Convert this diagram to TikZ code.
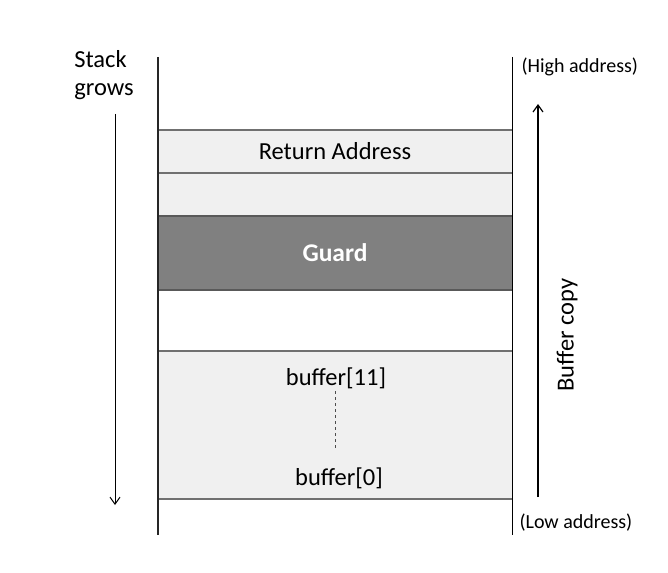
\documentclass[tikz,border=0pt]{standalone}
\usepackage{fontspec}
\setmainfont{Carlito}
\usepackage{xcolor}
\usetikzlibrary{arrows.meta}
\definecolor{slotgray}{HTML}{F0F0F0}
\definecolor{guardgray}{HTML}{808080}
\definecolor{edgegray}{HTML}{707070}

\begin{document}
\begin{tikzpicture}[x=1pt,y=-1pt,
  >={Straight Barb[length=7pt,width=10pt]},
  big/.style={font=\fontsize{24.5}{28}\selectfont},
  slot/.style={fill=slotgray, minimum width=354pt, inner sep=0pt, big},
  edge/.style={edgegray, line width=1.6pt},
  side/.style={black!85, line width=1.4pt},
  note/.style={font=\fontsize{20}{22}\selectfont, anchor=west}]
\useasboundingbox (0,0) rectangle (668,572);

% Stack frame slots
\node[slot, minimum height=43pt] (ret) at (335,151.5) {Return Address};
\node[slot, minimum height=43pt] (pad) at (335,194.5) {};
\node[slot, fill=guardgray, text=white, minimum height=74pt, font=\fontsize{25.5}{28}\selectfont\bfseries] (guard) at (335,253) {Guard};
\node[slot, fill=white, minimum height=61pt] (gap) at (335,320.5) {};
\node[slot, minimum height=148pt] (buf) at (335,425) {};

% Slot borders
\draw[edge] (ret.north west) -- (ret.north east);
\draw[edge] (ret.south west) -- (ret.south east);
\draw[edge, black!65] (guard.north west) -- (guard.north east);
\draw[edge, black!65] (guard.south west) -- (guard.south east);
\draw[edge] (buf.north west) -- (buf.north east);
\draw[edge] (buf.south west) -- (buf.south east);

% Frame sides
\coordinate (ltop) at (158,57);
\coordinate (lbot) at (158,535);
\coordinate (rtop) at (512,57);
\coordinate (rbot) at (512,535);
\draw[side] (ltop) -- (lbot);
\draw[black, line width=1pt] (rtop) -- (rbot);

% Buffer contents
\node[big] (b11) at (336,378) {buffer[11]};
\node[big] (b0) at (339,478) {buffer[0]};
\coordinate (dtop) at (335,391);
\coordinate (dbot) at (335,448);
\draw[dashed, black!70] (dtop) -- (dbot);

% Stack grows
\node[big, align=left] (grows) at (104,75) {Stack\\grows};
\coordinate (gtop) at (115,114);
\coordinate (gbot) at (115,505);
\draw[->, line width=1pt] (gtop) -- (gbot);

% Buffer copy
\coordinate (cbot) at (538,497);
\coordinate (ctop) at (538,104);
\draw[->, line width=1.2pt] (cbot) -- (ctop);
\node[rotate=90, big] (copy) at (567,335) {Buffer copy};

% Address notes
\node[note] (high) at (518,67) {(High address)};
\node[note] (low) at (516,523) {(Low address)};
\end{tikzpicture}
\end{document}
